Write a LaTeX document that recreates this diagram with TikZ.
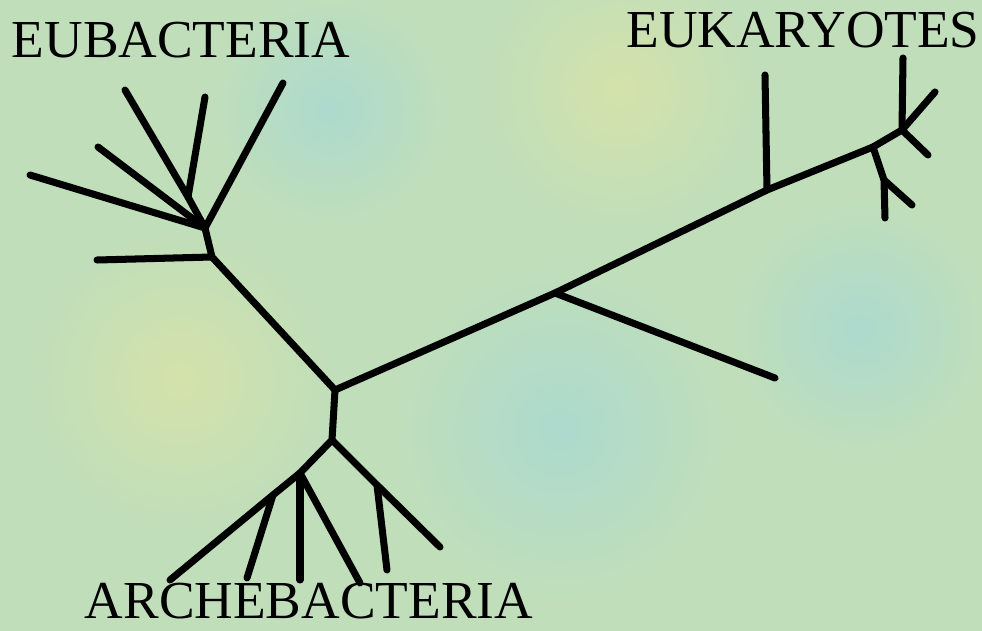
\documentclass[tikz,border=0pt]{standalone}
\usepackage{fontspec}
\setmainfont{Liberation Serif}
\definecolor{grund}{RGB}{192,222,186}
\definecolor{gelbgruen}{RGB}{212,226,170}
\definecolor{tuerkis}{RGB}{172,218,206}
\begin{document}
\begin{tikzpicture}[x=0.025cm, y=-0.025cm, line cap=round, line join=round,
  ast/.style={line width=5pt, black},
  titel/.style={font=\fontsize{38}{40}\selectfont, inner sep=0pt, anchor=base, text depth=0pt}]
  % Hintergrund
  \useasboundingbox (0,0) rectangle (982,631);
  \fill[grund] (0,0) rectangle (982,631);
  \begin{scope}
    \clip (0,0) rectangle (982,631);
    \shade[inner color=gelbgruen, outer color=grund] (620,90) circle (140);
    \shade[inner color=tuerkis, outer color=grund] (330,110) circle (120);
    \shade[inner color=tuerkis, outer color=grund] (560,430) circle (170);
    \shade[inner color=gelbgruen, outer color=grund] (180,380) circle (150);
    \shade[inner color=tuerkis, outer color=grund] (860,330) circle (130);
  \end{scope}

  % Knoten
  \coordinate (wurzel) at (335,390);
  % Eubakterien
  \coordinate (eu2) at (212,257);
  \coordinate (eu1) at (205,228);
  \coordinate (eus) at (188,197);
  \coordinate (euh) at (97,260);
  \coordinate (eua) at (125,90);
  \coordinate (eub) at (205,97);
  \coordinate (euc) at (98,147);
  \coordinate (eud) at (30,175);
  \coordinate (eue) at (283,83);
  % Eukaryoten
  \coordinate (mi) at (555,293);
  \coordinate (mit) at (775,378);
  \coordinate (ka1) at (767,190);
  \coordinate (ka1t) at (765,75);
  \coordinate (ka2) at (873,147);
  \coordinate (ka3) at (902,130);
  \coordinate (ka4) at (935,92);
  \coordinate (ka3o) at (903,58);
  \coordinate (ka3r) at (928,155);
  \coordinate (ka5) at (884,180);
  \coordinate (ka5t) at (885,218);
  \coordinate (ka5r) at (912,205);
  % Archebakterien
  \coordinate (ar0) at (332,440);
  \coordinate (ar1) at (300,473);
  \coordinate (ar2) at (377,485);
  \coordinate (ar3) at (273,495);
  \coordinate (arr) at (440,547);
  \coordinate (ar2t) at (387,570);
  \coordinate (arl) at (170,580);
  \coordinate (ar3t) at (247,578);
  \coordinate (arm) at (300,580);
  \coordinate (arn) at (360,583);

  % Aeste
  \draw[ast] (wurzel) -- (eu2) -- (eu1) -- (eus) -- (eua);
  \draw[ast] (eus) -- (eub);
  \draw[ast] (eu2) -- (euh);
  \draw[ast] (eu1) -- (euc);
  \draw[ast] (eu1) -- (eud);
  \draw[ast] (eu1) -- (eue);
  \draw[ast] (wurzel) -- (mi) -- (ka1) -- (ka2) -- (ka3) -- (ka4);
  \draw[ast] (mi) -- (mit);
  \draw[ast] (ka1) -- (ka1t);
  \draw[ast] (ka3) -- (ka3o);
  \draw[ast] (ka3) -- (ka3r);
  \draw[ast] (ka2) -- (ka5) -- (ka5t);
  \draw[ast] (ka5) -- (ka5r);
  \draw[ast] (wurzel) -- (ar0) -- (ar1) -- (ar3) -- (arl);
  \draw[ast] (ar0) -- (ar2) -- (arr);
  \draw[ast] (ar2) -- (ar2t);
  \draw[ast] (ar3) -- (ar3t);
  \draw[ast] (ar1) -- (arm);
  \draw[ast] (ar1) -- (arn);

  % Beschriftungen
  \node[titel] (eubakterien) at (181,57) {EUBACTERIA};
  \node[titel] (eukaryoten) at (803,48) {EUKARYOTES};
  \node[titel] (archebakterien) at (309,618) {ARCHEBACTERIA};
\end{tikzpicture}
\end{document}
